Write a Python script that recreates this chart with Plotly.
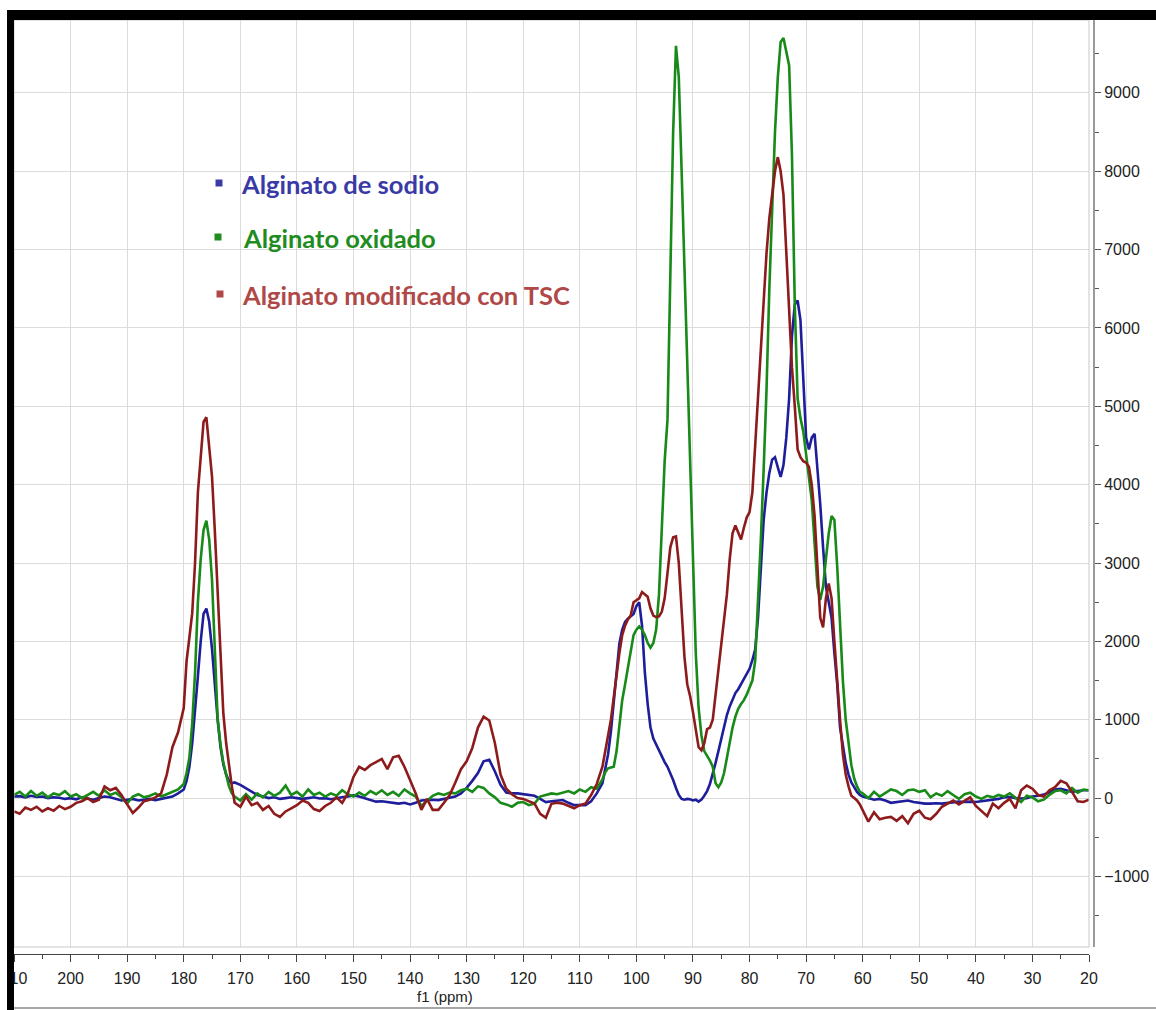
import numpy as np
import plotly.graph_objects as go

# Chemical shift grid (ppm): finer spacing through the carbonyl peak and the 105-60 ppm region
ppm = np.concatenate([
    np.arange(210, 180, -1),      # 210 .. 181
    np.arange(180, 171, -0.5),    # 180 .. 171.5
    np.arange(171, 105, -1),      # 171 .. 106
    np.arange(105.5, 59.5, -0.5), # 105.5 .. 60
    np.arange(59, 19, -1),        # 59 .. 20
])

# Alginato de sodio
sodio = [
    20, 25, 10, 30, 15, 20, 0, 10, 5, -10,
    0, -15, 10, -5, -20, 0, 20, 10, -10, -30,
    -20, -10, -30, -20, -10, -25, -10, 0, 20, 60,
    110, 220, 400, 700, 1085, 1550, 2000, 2350, 2420, 2250,
    1900, 1400, 1000, 650, 430, 300, 220, 190,
    200, 170, 130, 80, 40, 20, 0, 10, -10, 0,
    10, 0, -10, 0, 10, -5, 0, -15, 0, 10,
    20, 35, 20, 0, -20, -45, -40, -50, -60, -70,
    -60, -80, -60, -30, -25, -20, -25, -10, 10, 20,
    60, 130, 220, 320, 470, 490, 340, 170, 70, 60,
    60, 50, 40, 30, -10, -50, -40, -30, -25, -60,
    -90, -90, -90, -40, 60, 190,
    400, 560, 850, 1200, 1600, 1975, 2150, 2250, 2290, 2320,
    2350, 2450, 2500, 2200, 1600, 1200, 900, 760, 680, 610,
    540, 460, 400, 320, 230, 130, 40, -10, -20, -10,
    -15, -30, -20, -45, -20, 30, 90, 180, 300, 450,
    600, 760, 900, 1060, 1170, 1260, 1340, 1390, 1460, 1520,
    1580, 1650, 1760, 1900, 2300, 2900, 3550, 3900, 4150, 4320,
    4350, 4220, 4100, 4250, 4600, 5100, 5900, 6300, 6350, 6100,
    5350, 4600, 4450, 4600, 4650, 4230, 3750, 3200, 2700, 2500,
    2300, 1850, 1450, 900, 650, 450, 300, 200, 140, 80,
    40, 20,
    0, -20, -10, -30, -60, -50, -40, -30, -50, -60,
    -70, -70, -65, -70, -60, -50, -45, -50, -45, -50,
    -40, -30, -25, -10, 10, 15, 0, -5, 0, 20,
    30, 45, 70, 110, 120, 100, 80, 90, 100, 100,
]

# Alginato oxidado
oxidado = [
    40, 80, 20, 90, 30, 70, 10, 60, 40, 90,
    20, 50, 0, 40, 80, 30, 100, 40, 70, 10,
    -70, 20, 50, 10, 30, 60, 20, 50, 80, 110,
    180, 320, 520, 950, 1600, 2500, 3050, 3420, 3540, 3300,
    2780, 1800, 1000, 680, 450, 300, 150, 60,
    20, -30, 50, -20, 60, 10, 80, 30, 70, 160,
    40, 80, 20, 110, 40, 70, 20, 60, 30, 100,
    50, 20, 70, 30, 90, 50, 100, 40, 80, 30,
    110, 60, 20, -100, -40, 30, 60, 40, 70, 60,
    100, 120, 80, 150, 130, 60, 10, -60, -80, -110,
    -60, -50, -90, -70, 20, 40, 60, 50, 70, 90,
    60, 110, 80, 140, 120, 240,
    330, 380, 390, 400, 600, 950, 1250, 1450, 1680, 1900,
    2080, 2150, 2190, 2150, 2080, 1980, 1920, 1980, 2150, 2600,
    3500, 4300, 4830, 6530, 8500, 9600, 9200, 8000, 6740, 5600,
    4200, 2800, 1850, 1150, 800, 600, 540, 480, 400, 190,
    140, 200, 320, 520, 720, 900, 1040, 1140, 1200, 1250,
    1320, 1400, 1500, 1750, 2450, 3300, 4200, 5200, 6500, 7600,
    8500, 9200, 9650, 9700, 9500, 9350, 8200, 6300, 5100, 4850,
    4680, 4400, 4100, 3800, 3250, 2700, 2530, 2700, 3050, 3380,
    3600, 3550, 2950, 2200, 1500, 1000, 700, 420, 250, 150,
    80, 60,
    0, 80, 20, 60, 110, 90, 40, 100, 110, 80,
    100, 10, 60, 30, 90, 40, -10, 50, 70, 20,
    -10, 30, 10, 40, 20, 60, 10, -50, 30, 10,
    -40, -20, 40, 90, 100, 60, 130, 70, 110, 100,
]

# Alginato modificado con TSC
modificado = [
    -170, -200, -120, -150, -110, -170, -130, -160, -100, -140,
    -110, -60, -40, 0, -50, -20, 150, 100, 130, 40,
    -80, -190, -120, -40, -20, 10, 60, 300, 650, 840,
    1150, 1750, 2050, 2360, 3000, 3900, 4350, 4800, 4860, 4500,
    4100, 3400, 2600, 1900, 1080, 700, 400, 150,
    -60, -110, 20, -90, -60, -150, -100, -200, -240, -170,
    -130, -90, -30, -60, -140, -165, -100, -60, 10, -60,
    60, 270, 400, 360, 420, 460, 500, 370, 520, 540,
    400, 230, 60, -150, -10, -150, -150, -60, 40, 200,
    370, 470, 640, 900, 1040, 990, 700, 300, 120, 50,
    0, -10, -40, -70, -200, -250, -70, -60, -70, -100,
    -130, -90, -70, 40, 180, 400,
    620, 800, 1000, 1300, 1600, 1850, 2080, 2200, 2280, 2330,
    2500, 2530, 2550, 2630, 2600, 2570, 2420, 2330, 2310, 2320,
    2380, 2550, 2870, 3200, 3330, 3340, 3000, 2350, 1800, 1450,
    1300, 1100, 850, 650, 610, 700, 880, 900, 1000, 1330,
    1650, 1950, 2250, 2600, 3050, 3380, 3480, 3400, 3300, 3450,
    3580, 3650, 3900, 4500, 5150, 5750, 6350, 6950, 7400, 7720,
    8000, 8180, 8000, 7700, 6900, 6100, 5500, 5000, 4450, 4350,
    4300, 4280, 4230, 4000, 3600, 2950, 2300, 2180, 2550, 2740,
    2550, 2000, 1460, 1000, 560, 300, 150, 30, 0, -30,
    -80, -150,
    -300, -180, -270, -250, -240, -290, -230, -320, -200, -160,
    -250, -270, -200, -110, -70, -30, -80, -40, 10, -100,
    -160, -230, -70, -130, -60, -10, -130, 100, 160, 120,
    40, 20, 100, 140, 220, 190, 80, -40, -50, -20,
]

for name, arr in (("sodio", sodio), ("oxidado", oxidado), ("modificado", modificado)):
    assert len(arr) == len(ppm), (name, len(arr), len(ppm))

series_names = ["Alginato de sodio", "Alginato oxidado", "Alginato modificado con TSC"]
line_colors = ["#1E1E9C", "#178A17", "#8E1B1B"]
label_colors = ["#3A3AA6", "#1F8C1F", "#B04848"]

W, H = 1156, 1010
ML, MR, MT, MB = 14, 62, 20, 56
PW, PH = W - ML - MR, H - MT - MB


def fx(px):
    return (px - ML) / PW


def fy(py):
    return (H - MB - py) / PH


fig = go.Figure()
for name, vals, col in zip(series_names, [sodio, oxidado, modificado], line_colors):
    fig.add_trace(go.Scatter(x=ppm, y=vals, mode="lines", name=name,
                             line=dict(color=col, width=2.6)))

tick_font = dict(family="Liberation Sans", size=16, color="#222222")

fig.update_layout(
    width=W, height=H,
    margin=dict(l=ML, r=MR, t=MT, b=MB, autoexpand=False),
    paper_bgcolor="white", plot_bgcolor="white",
    showlegend=False,
    xaxis=dict(
        domain=[0, fx(1089)], range=[210, 20], anchor="free", position=0,
        automargin=False,
        showline=True, linecolor="#444444", linewidth=1,
        ticks="outside", ticklen=7, tickcolor="#444444", tickwidth=1,
        tick0=0, dtick=10, tickfont=tick_font, ticklabelstandoff=3,
        showgrid=True, gridcolor="#DCDCDC", gridwidth=1, zeroline=False,
        minor=dict(ticks="outside", ticklen=4, dtick=5, tickcolor="#444444", showgrid=False),
    ),
    yaxis=dict(
        domain=[fy(947), 1], range=[-1900, 9930], side="right", anchor="free", position=1,
        automargin=False,
        showline=True, linecolor="#9A9A9A", linewidth=2,
        ticks="outside", ticklen=6, tickcolor="#555555", tickwidth=1,
        tick0=0, dtick=1000, tickformat="d", tickfont=tick_font,
        showgrid=True, gridcolor="#DCDCDC", gridwidth=1, zeroline=False,
        minor=dict(ticks="outside", ticklen=4, dtick=500, tickcolor="#555555", showgrid=False),
    ),
)

shapes = [
    # light frame around the data area
    dict(type="rect", xref="x domain", yref="y domain", x0=0, x1=1, y0=0, y1=1,
         line=dict(color="#C8C8C8", width=1), layer="above"),
    # white margin to the left of the outer frame and above it
    dict(type="rect", xref="paper", yref="paper", x0=fx(-2), x1=fx(7), y0=fy(H + 2), y1=fy(-2),
         fillcolor="white", line=dict(width=0), layer="above"),
    dict(type="rect", xref="paper", yref="paper", x0=fx(-2), x1=fx(W + 2), y0=fy(10), y1=fy(-2),
         fillcolor="white", line=dict(width=0), layer="above"),
    # heavy black frame along the top and left
    dict(type="rect", xref="paper", yref="paper", x0=fx(7), x1=fx(W + 2), y0=fy(20), y1=fy(10),
         fillcolor="black", line=dict(width=0), layer="above"),
    dict(type="rect", xref="paper", yref="paper", x0=fx(7), x1=fx(14), y0=fy(H + 2), y1=fy(10),
         fillcolor="black", line=dict(width=0), layer="above"),
    # thin grey rule along the bottom
    dict(type="line", xref="paper", yref="paper", x0=fx(14), x1=fx(W + 2), y0=fy(1008), y1=fy(1008),
         line=dict(color="#8A8A8A", width=1.5), layer="above"),
]

# legend markers and labels
legend_pos = [(219, 239, 184), (218, 241, 238), (220, 240, 295)]
annotations = []
for (sx, tx, ty), name, col, tcol in zip(legend_pos, series_names, line_colors, label_colors):
    shapes.append(dict(type="rect", xref="paper", yref="paper",
                       x0=fx(sx - 3.5), x1=fx(sx + 3.5), y0=fy(ty + 2.5), y1=fy(ty - 4.5),
                       fillcolor=tcol, line=dict(width=0)))
    annotations.append(dict(xref="paper", yref="paper", x=fx(tx), y=fy(ty),
                            xanchor="left", yanchor="middle", showarrow=False,
                            text="<b>%s</b>" % name,
                            font=dict(family="Lato", size=25.5, color=tcol)))

annotations.append(dict(xref="paper", yref="paper", x=fx(445), y=fy(997),
                        xanchor="center", yanchor="middle", showarrow=False,
                        text="f1 (ppm)", font=dict(family="Liberation Sans", size=15, color="#222222")))

fig.update_layout(shapes=shapes, annotations=annotations)

fig.write_html("out.html")
